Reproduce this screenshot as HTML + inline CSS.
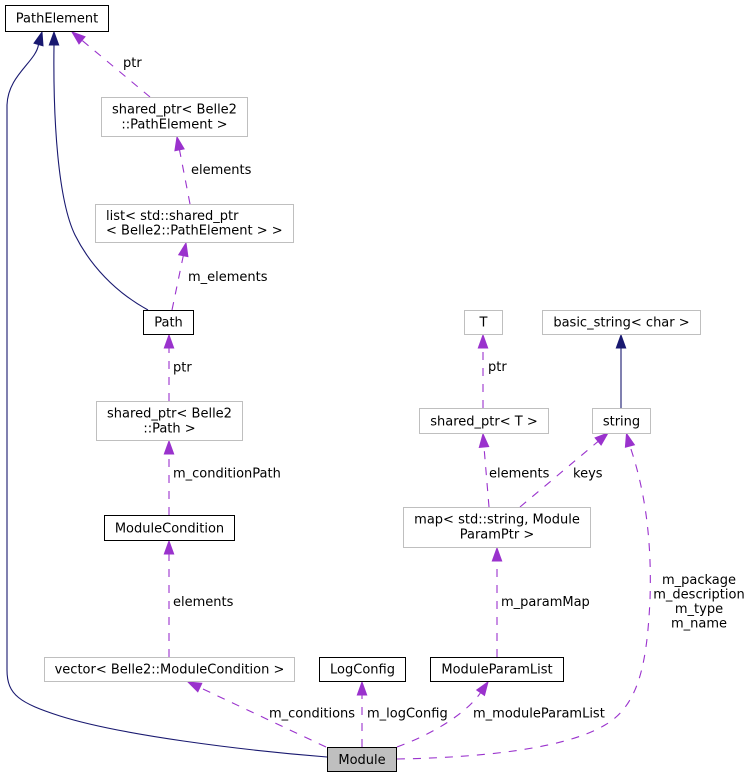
<!DOCTYPE html>
<html>
<head>
<meta charset="utf-8">
<style>
html,body{margin:0;padding:0;background:#fff;}
svg{display:block;}
text{font-family:"DejaVu Sans","Liberation Sans",sans-serif;font-size:13px;fill:#000;}
.b{fill:#fff;stroke:#000;stroke-width:1;}
.g{fill:#fff;stroke:#bfbfbf;stroke-width:1;}
.p{fill:none;stroke:#9a32cd;stroke-width:1.1;stroke-dasharray:8,8;}
.pa{fill:#9a32cd;stroke:#9a32cd;stroke-width:1;}
.n{fill:none;stroke:#191970;stroke-width:1.1;}
.na{fill:#191970;stroke:#191970;stroke-width:1;}
</style>
</head>
<body>
<svg width="752" height="779" viewBox="0 0 752 779" xmlns="http://www.w3.org/2000/svg">

<!-- Edges: navy inheritance -->
<path class="n" d="M327,757 C240,750 120,735 60,716 C20,703 7,695 7,670 L7,105 C8,75 36,62 38.5,44.5"/>
<polygon class="na" points="42,32 43,45.8 34,43.2"/>

<path class="n" d="M148,310 C115,292 90,265 75,235 C58,200 53,120 54,45"/>
<polygon class="na" points="54,32 58.7,45 49.3,45"/>

<path class="n" d="M621,408 L621,348"/>
<polygon class="na" points="621,335 625.7,348 616.3,348"/>

<!-- Edges: purple usage -->
<path class="p" d="M150,97 L82,40.3"/>
<polygon class="pa" points="72,32 85,36.7 79,43.9"/>

<path class="p" d="M190,204 L179.5,149.8"/>
<polygon class="pa" points="177,137 184.1,148.9 174.9,150.7"/>

<path class="p" d="M172,310 L183.3,255.7"/>
<polygon class="pa" points="186,243 187.9,256.6 178.7,254.8"/>

<path class="p" d="M169,401 L169,348"/>
<polygon class="pa" points="169,335 173.7,348 164.3,348"/>

<path class="p" d="M169,515 L169,454"/>
<polygon class="pa" points="169,441 173.7,454 164.3,454"/>

<path class="p" d="M169,657 L169,554"/>
<polygon class="pa" points="169,541 173.7,554 164.3,554"/>

<path class="p" d="M326,747 L199.8,687.5"/>
<polygon class="pa" points="188,682 201.8,683.3 197.8,691.8"/>

<path class="p" d="M362,747 L362,695"/>
<polygon class="pa" points="362,682 366.7,695 357.3,695"/>

<path class="p" d="M397,747 C430,735 465,715 480.6,692.7"/>
<polygon class="pa" points="488,682 484.5,695.4 476.7,690"/>

<path class="p" d="M497,657 L497,561"/>
<polygon class="pa" points="497,548 501.7,561 492.3,561"/>

<path class="p" d="M483,408 L483,348"/>
<polygon class="pa" points="483,335 487.7,348 478.3,348"/>

<path class="p" d="M489,507 L484,447"/>
<polygon class="pa" points="483,434 488.7,446.6 479.3,447.4"/>

<path class="p" d="M520,507 L598.1,441.4"/>
<polygon class="pa" points="608,433 601.1,445 595.1,437.8"/>

<path class="p" d="M397,759 C460,758 560,752 605,725 C640,705 647,660 650,600 C652,540 645,490 629.9,446"/>
<polygon class="pa" points="626.5,433.5 634.4,444.8 625.4,447.2"/>

<!-- Nodes -->
<rect class="b" x="5.5" y="5.5" width="103" height="26"/>
<text x="57" y="22.5" text-anchor="middle">PathElement</text>

<rect class="g" x="101.5" y="97.5" width="146" height="39"/>
<text x="174.5" y="113.5" text-anchor="middle">shared_ptr&lt; Belle2</text>
<text x="174.5" y="128.3" text-anchor="middle">::PathElement &gt;</text>

<rect class="g" x="95.5" y="204.5" width="198" height="38"/>
<text x="106" y="220">list&lt; std::shared_ptr</text>
<text x="106" y="234.5">&lt; Belle2::PathElement &gt; &gt;</text>

<rect class="b" x="143.5" y="310.5" width="50" height="24"/>
<text x="168.5" y="326.7" text-anchor="middle">Path</text>

<rect class="g" x="96.5" y="401.5" width="146" height="39"/>
<text x="169.5" y="417.5" text-anchor="middle">shared_ptr&lt; Belle2</text>
<text x="169.5" y="432.3" text-anchor="middle">::Path &gt;</text>

<rect class="b" x="104.5" y="515.5" width="130" height="25"/>
<text x="169.5" y="532.5" text-anchor="middle">ModuleCondition</text>

<rect class="g" x="44.5" y="657.5" width="250" height="24"/>
<text x="169.5" y="673.5" text-anchor="middle">vector&lt; Belle2::ModuleCondition &gt;</text>

<rect class="b" x="319.5" y="657.5" width="86" height="24"/>
<text x="362.5" y="673.5" text-anchor="middle">LogConfig</text>

<rect class="b" x="430.5" y="657.5" width="133" height="24"/>
<text x="497" y="673.5" text-anchor="middle">ModuleParamList</text>

<rect x="327.5" y="747.5" width="69" height="24" fill="#bfbfbf" stroke="#000" stroke-width="1"/>
<text x="362" y="764" text-anchor="middle">Module</text>

<rect class="g" x="464.5" y="310.5" width="38" height="24"/>
<text x="483.5" y="326.7" text-anchor="middle">T</text>

<rect class="g" x="542.5" y="310.5" width="158" height="24"/>
<text x="621.5" y="326.7" text-anchor="middle">basic_string&lt; char &gt;</text>

<rect class="g" x="419.5" y="408.5" width="129" height="25"/>
<text x="484" y="425.3" text-anchor="middle">shared_ptr&lt; T &gt;</text>

<rect class="g" x="592.5" y="408.5" width="58" height="25"/>
<text x="621.5" y="425.3" text-anchor="middle">string</text>

<rect class="g" x="403.5" y="507.5" width="187" height="40"/>
<text x="497" y="523.5" text-anchor="middle">map&lt; std::string, Module</text>
<text x="497" y="538.3" text-anchor="middle">ParamPtr &gt;</text>

<!-- Edge labels -->
<text x="123" y="67">ptr</text>
<text x="191" y="174">elements</text>
<text x="188" y="281">m_elements</text>
<text x="173" y="371.5">ptr</text>
<text x="173" y="477.5">m_conditionPath</text>
<text x="173" y="606">elements</text>
<text x="269" y="717.7">m_conditions</text>
<text x="367" y="717.7">m_logConfig</text>
<text x="473" y="717.7">m_moduleParamList</text>
<text x="501" y="606">m_paramMap</text>
<text x="488" y="371">ptr</text>
<text x="489" y="477.7">elements</text>
<text x="573" y="477.7">keys</text>
<text x="699" y="584" text-anchor="middle">m_package</text>
<text x="699" y="598.5" text-anchor="middle">m_description</text>
<text x="699" y="613" text-anchor="middle">m_type</text>
<text x="699" y="627.5" text-anchor="middle">m_name</text>
</svg>
</body>
</html>
